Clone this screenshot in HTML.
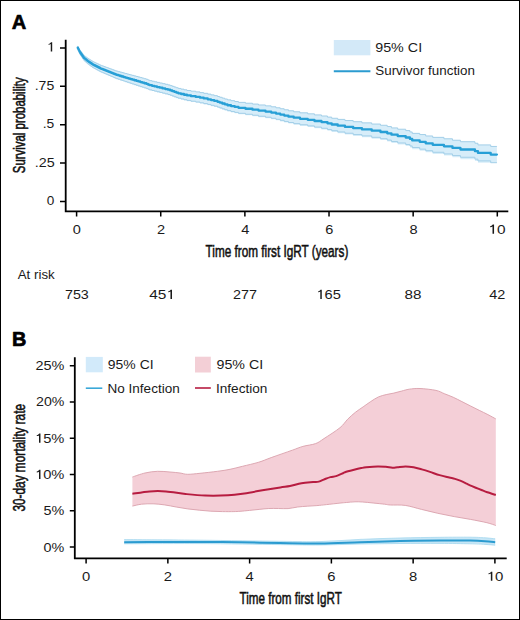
<!DOCTYPE html>
<html><head><meta charset="utf-8"><style>
html,body{margin:0;padding:0;background:#fff;}
body{width:520px;height:620px;overflow:hidden;}
svg{display:block;}
.t{font-family:"Liberation Sans", sans-serif;fill:#1a1a1a;}
.ti{font-family:"Liberation Sans", sans-serif;fill:#111;stroke:#111;stroke-width:0.55px;}
.lab{font-family:"Liberation Sans", sans-serif;fill:#000;stroke:#000;stroke-width:0.7px;stroke-linejoin:round;}
</style></head><body>
<svg width="520" height="620" viewBox="0 0 520 620">
<rect x="0" y="0" width="520" height="620" fill="#fff"/>
<path d="M77.70,46.20 H77.95 V46.84 H78.20 V47.31 H78.45 V47.77 H78.70 V48.24 H78.95 V48.71 H79.20 V49.17 H79.45 V49.64 H79.70 V50.10 H79.95 V50.57 H80.20 V50.92 H80.70 V51.56 H81.20 V52.21 H81.70 V52.85 H82.20 V53.49 H82.70 V54.13 H83.20 V54.78 H83.70 V55.42 H84.20 V55.82 H84.70 V56.15 H85.20 V56.51 H85.70 V56.88 H86.20 V57.25 H86.70 V57.63 H87.20 V58.00 H87.70 V58.37 H88.20 V58.75 H88.95 V59.25 H89.70 V59.71 H90.45 V60.17 H91.20 V60.63 H91.95 V61.09 H92.70 V61.55 H93.45 V61.96 H94.45 V62.44 H95.45 V62.91 H96.45 V63.39 H97.45 V63.87 H98.45 V64.34 H99.45 V64.82 H100.45 V65.30 H101.45 V65.70 H102.70 V66.14 H103.95 V66.59 H105.20 V67.04 H106.45 V67.49 H107.70 V67.94 H108.95 V68.40 H110.20 V68.86 H111.45 V69.33 H112.70 V69.79 H113.95 V70.26 H115.20 V70.72 H116.45 V71.16 H118.20 V71.64 H119.95 V72.12 H121.70 V72.59 H123.45 V73.07 H125.20 V73.54 H126.95 V74.01 H128.70 V74.48 H130.45 V74.95 H132.20 V75.42 H134.20 V75.95 H136.20 V76.49 H138.20 V77.03 H140.20 V77.57 H142.20 V78.15 H144.20 V78.73 H146.20 V79.31 H147.95 V79.97 H149.45 V80.63 H151.95 V81.23 H154.45 V81.81 H156.95 V82.39 H159.70 V83.02 H162.45 V83.66 H165.20 V84.30 H167.95 V84.93 H170.20 V85.62 H172.20 V86.33 H174.20 V87.03 H176.20 V87.74 H178.20 V88.44 H180.95 V89.11 H183.95 V89.81 H186.95 V90.50 H190.95 V91.19 H195.70 V91.89 H199.95 V92.61 H203.70 V93.32 H207.70 V94.10 H210.95 V94.88 H214.20 V95.67 H217.45 V96.51 H219.70 V97.29 H222.20 V98.15 H224.70 V99.02 H227.45 V99.86 H230.95 V100.66 H234.70 V101.53 H238.45 V102.39 H245.45 V103.22 H252.45 V104.07 H258.45 V104.97 H265.45 V105.87 H271.20 V106.81 H275.95 V107.77 H280.20 V108.74 H284.20 V109.76 H288.45 V110.78 H293.70 V111.79 H299.95 V112.82 H307.70 V113.84 H314.45 V114.92 H321.45 V115.99 H327.45 V117.12 H331.70 V118.27 H337.70 V119.40 H344.95 V120.54 H353.20 V121.71 H361.95 V122.86 H371.70 V124.06 H380.45 V125.28 H387.20 V126.56 H391.45 V127.91 H397.70 V129.23 H405.70 V130.55 H409.95 V131.94 H412.20 V133.36 H419.70 V134.56 H425.70 V135.98 H432.70 V137.37 H443.95 V138.77 H452.45 V140.24 H460.45 V141.71 H474.95 V143.26 H477.95 V144.92 H490.70 V146.44 H496.90 V146.38 V162.78 V162.78 H490.70 V162.69 H477.95 V160.88 H474.95 V159.15 H460.45 V157.26 H452.45 V155.59 H443.95 V153.93 H432.70 V152.27 H425.70 V150.71 H419.70 V149.14 H412.20 V147.49 H409.95 V145.94 H405.70 V144.47 H397.70 V142.98 H391.45 V141.54 H387.20 V140.11 H380.45 V138.69 H371.70 V137.30 H361.95 V135.90 H353.20 V134.57 H344.95 V133.24 H337.70 V131.96 H331.70 V130.70 H327.45 V129.48 H321.45 V128.25 H314.45 V127.08 H307.70 V125.89 H299.95 V124.74 H293.70 V123.61 H288.45 V122.52 H284.20 V121.43 H280.20 V120.34 H275.95 V119.30 H271.20 V118.27 H265.45 V117.24 H258.45 V116.23 H252.45 V115.23 H245.45 V114.27 H238.45 V113.32 H234.70 V112.40 H230.95 V111.48 H227.45 V110.61 H224.70 V109.71 H222.20 V108.80 H219.70 V107.88 H217.45 V107.06 H214.20 V106.15 H210.95 V105.30 H207.70 V104.45 H203.70 V103.59 H199.95 V102.81 H195.70 V102.00 H190.95 V101.21 H186.95 V100.44 H183.95 V99.68 H180.95 V98.93 H178.20 V98.20 H176.20 V97.46 H174.20 V96.72 H172.20 V95.97 H170.20 V95.23 H167.95 V94.49 H165.20 V93.80 H162.45 V93.11 H159.70 V92.42 H156.95 V91.73 H154.45 V91.10 H151.95 V90.47 H149.45 V89.81 H147.95 V89.13 H146.20 V88.43 H144.20 V87.81 H142.20 V87.19 H140.20 V86.57 H138.20 V85.91 H136.20 V85.25 H134.20 V84.58 H132.20 V83.92 H130.45 V83.34 H128.70 V82.76 H126.95 V82.18 H125.20 V81.59 H123.45 V81.01 H121.70 V80.42 H119.95 V79.84 H118.20 V79.25 H116.45 V78.66 H115.20 V78.14 H113.95 V77.59 H112.70 V77.05 H111.45 V76.50 H110.20 V75.96 H108.95 V75.41 H107.70 V74.88 H106.45 V74.35 H105.20 V73.82 H103.95 V73.29 H102.70 V72.76 H101.45 V72.23 H100.45 V71.77 H99.45 V71.23 H98.45 V70.69 H97.45 V70.15 H96.45 V69.61 H95.45 V69.07 H94.45 V68.53 H93.45 V67.99 H92.70 V67.51 H91.95 V66.96 H91.20 V66.40 H90.45 V65.85 H89.70 V65.30 H88.95 V64.74 H88.20 V64.15 H87.70 V63.71 H87.20 V63.28 H86.70 V62.84 H86.20 V62.40 H85.70 V61.97 H85.20 V61.53 H84.70 V61.07 H84.20 V60.60 H83.70 V60.06 H83.20 V59.28 H82.70 V58.50 H82.20 V57.72 H81.70 V56.94 H81.20 V56.17 H80.70 V55.39 H80.20 V54.61 H79.95 V54.19 H79.70 V53.65 H79.45 V53.12 H79.20 V52.58 H78.95 V52.05 H78.70 V51.51 H78.45 V50.98 H78.20 V50.44 H77.95 V49.91 H77.70 V49.20 Z" fill="#d7edf9" stroke="none"/>
<path d="M77.70,46.20 H77.95 V46.84 H78.20 V47.31 H78.45 V47.77 H78.70 V48.24 H78.95 V48.71 H79.20 V49.17 H79.45 V49.64 H79.70 V50.10 H79.95 V50.57 H80.20 V50.92 H80.70 V51.56 H81.20 V52.21 H81.70 V52.85 H82.20 V53.49 H82.70 V54.13 H83.20 V54.78 H83.70 V55.42 H84.20 V55.82 H84.70 V56.15 H85.20 V56.51 H85.70 V56.88 H86.20 V57.25 H86.70 V57.63 H87.20 V58.00 H87.70 V58.37 H88.20 V58.75 H88.95 V59.25 H89.70 V59.71 H90.45 V60.17 H91.20 V60.63 H91.95 V61.09 H92.70 V61.55 H93.45 V61.96 H94.45 V62.44 H95.45 V62.91 H96.45 V63.39 H97.45 V63.87 H98.45 V64.34 H99.45 V64.82 H100.45 V65.30 H101.45 V65.70 H102.70 V66.14 H103.95 V66.59 H105.20 V67.04 H106.45 V67.49 H107.70 V67.94 H108.95 V68.40 H110.20 V68.86 H111.45 V69.33 H112.70 V69.79 H113.95 V70.26 H115.20 V70.72 H116.45 V71.16 H118.20 V71.64 H119.95 V72.12 H121.70 V72.59 H123.45 V73.07 H125.20 V73.54 H126.95 V74.01 H128.70 V74.48 H130.45 V74.95 H132.20 V75.42 H134.20 V75.95 H136.20 V76.49 H138.20 V77.03 H140.20 V77.57 H142.20 V78.15 H144.20 V78.73 H146.20 V79.31 H147.95 V79.97 H149.45 V80.63 H151.95 V81.23 H154.45 V81.81 H156.95 V82.39 H159.70 V83.02 H162.45 V83.66 H165.20 V84.30 H167.95 V84.93 H170.20 V85.62 H172.20 V86.33 H174.20 V87.03 H176.20 V87.74 H178.20 V88.44 H180.95 V89.11 H183.95 V89.81 H186.95 V90.50 H190.95 V91.19 H195.70 V91.89 H199.95 V92.61 H203.70 V93.32 H207.70 V94.10 H210.95 V94.88 H214.20 V95.67 H217.45 V96.51 H219.70 V97.29 H222.20 V98.15 H224.70 V99.02 H227.45 V99.86 H230.95 V100.66 H234.70 V101.53 H238.45 V102.39 H245.45 V103.22 H252.45 V104.07 H258.45 V104.97 H265.45 V105.87 H271.20 V106.81 H275.95 V107.77 H280.20 V108.74 H284.20 V109.76 H288.45 V110.78 H293.70 V111.79 H299.95 V112.82 H307.70 V113.84 H314.45 V114.92 H321.45 V115.99 H327.45 V117.12 H331.70 V118.27 H337.70 V119.40 H344.95 V120.54 H353.20 V121.71 H361.95 V122.86 H371.70 V124.06 H380.45 V125.28 H387.20 V126.56 H391.45 V127.91 H397.70 V129.23 H405.70 V130.55 H409.95 V131.94 H412.20 V133.36 H419.70 V134.56 H425.70 V135.98 H432.70 V137.37 H443.95 V138.77 H452.45 V140.24 H460.45 V141.71 H474.95 V143.26 H477.95 V144.92 H490.70 V146.44 H496.90 V146.38" fill="none" stroke="#a3cfe8" stroke-width="1"/>
<path d="M77.70,49.20 H77.95 V49.91 H78.20 V50.44 H78.45 V50.98 H78.70 V51.51 H78.95 V52.05 H79.20 V52.58 H79.45 V53.12 H79.70 V53.65 H79.95 V54.19 H80.20 V54.61 H80.70 V55.39 H81.20 V56.17 H81.70 V56.94 H82.20 V57.72 H82.70 V58.50 H83.20 V59.28 H83.70 V60.06 H84.20 V60.60 H84.70 V61.07 H85.20 V61.53 H85.70 V61.97 H86.20 V62.40 H86.70 V62.84 H87.20 V63.28 H87.70 V63.71 H88.20 V64.15 H88.95 V64.74 H89.70 V65.30 H90.45 V65.85 H91.20 V66.40 H91.95 V66.96 H92.70 V67.51 H93.45 V67.99 H94.45 V68.53 H95.45 V69.07 H96.45 V69.61 H97.45 V70.15 H98.45 V70.69 H99.45 V71.23 H100.45 V71.77 H101.45 V72.23 H102.70 V72.76 H103.95 V73.29 H105.20 V73.82 H106.45 V74.35 H107.70 V74.88 H108.95 V75.41 H110.20 V75.96 H111.45 V76.50 H112.70 V77.05 H113.95 V77.59 H115.20 V78.14 H116.45 V78.66 H118.20 V79.25 H119.95 V79.84 H121.70 V80.42 H123.45 V81.01 H125.20 V81.59 H126.95 V82.18 H128.70 V82.76 H130.45 V83.34 H132.20 V83.92 H134.20 V84.58 H136.20 V85.25 H138.20 V85.91 H140.20 V86.57 H142.20 V87.19 H144.20 V87.81 H146.20 V88.43 H147.95 V89.13 H149.45 V89.81 H151.95 V90.47 H154.45 V91.10 H156.95 V91.73 H159.70 V92.42 H162.45 V93.11 H165.20 V93.80 H167.95 V94.49 H170.20 V95.23 H172.20 V95.97 H174.20 V96.72 H176.20 V97.46 H178.20 V98.20 H180.95 V98.93 H183.95 V99.68 H186.95 V100.44 H190.95 V101.21 H195.70 V102.00 H199.95 V102.81 H203.70 V103.59 H207.70 V104.45 H210.95 V105.30 H214.20 V106.15 H217.45 V107.06 H219.70 V107.88 H222.20 V108.80 H224.70 V109.71 H227.45 V110.61 H230.95 V111.48 H234.70 V112.40 H238.45 V113.32 H245.45 V114.27 H252.45 V115.23 H258.45 V116.23 H265.45 V117.24 H271.20 V118.27 H275.95 V119.30 H280.20 V120.34 H284.20 V121.43 H288.45 V122.52 H293.70 V123.61 H299.95 V124.74 H307.70 V125.89 H314.45 V127.08 H321.45 V128.25 H327.45 V129.48 H331.70 V130.70 H337.70 V131.96 H344.95 V133.24 H353.20 V134.57 H361.95 V135.90 H371.70 V137.30 H380.45 V138.69 H387.20 V140.11 H391.45 V141.54 H397.70 V142.98 H405.70 V144.47 H409.95 V145.94 H412.20 V147.49 H419.70 V149.14 H425.70 V150.71 H432.70 V152.27 H443.95 V153.93 H452.45 V155.59 H460.45 V157.26 H474.95 V159.15 H477.95 V160.88 H490.70 V162.69 H496.90 V162.78" fill="none" stroke="#a3cfe8" stroke-width="1"/>
<path d="M77.70,47.70 H77.95 V48.38 H78.20 V48.88 H78.45 V49.38 H78.70 V49.88 H78.95 V50.38 H79.20 V50.88 H79.45 V51.38 H79.70 V51.88 H79.95 V52.38 H80.20 V52.76 H80.70 V53.47 H81.20 V54.19 H81.70 V54.90 H82.20 V55.61 H82.70 V56.32 H83.20 V57.03 H83.70 V57.74 H84.20 V58.21 H84.70 V58.61 H85.20 V59.02 H85.70 V59.42 H86.20 V59.83 H86.70 V60.23 H87.20 V60.64 H87.70 V61.04 H88.20 V61.45 H88.95 V62.00 H89.70 V62.50 H90.45 V63.01 H91.20 V63.52 H91.95 V64.02 H92.70 V64.53 H93.45 V64.98 H94.45 V65.48 H95.45 V65.99 H96.45 V66.50 H97.45 V67.01 H98.45 V67.52 H99.45 V68.02 H100.45 V68.53 H101.45 V68.97 H102.70 V69.45 H103.95 V69.94 H105.20 V70.43 H106.45 V70.92 H107.70 V71.41 H108.95 V71.90 H110.20 V72.41 H111.45 V72.91 H112.70 V73.42 H113.95 V73.93 H115.20 V74.43 H116.45 V74.91 H118.20 V75.44 H119.95 V75.98 H121.70 V76.51 H123.45 V77.04 H125.20 V77.57 H126.95 V78.09 H128.70 V78.62 H130.45 V79.14 H132.20 V79.67 H134.20 V80.27 H136.20 V80.87 H138.20 V81.47 H140.20 V82.07 H142.20 V82.67 H144.20 V83.27 H146.20 V83.87 H147.95 V84.55 H149.45 V85.22 H151.95 V85.85 H154.45 V86.46 H156.95 V87.06 H159.70 V87.72 H162.45 V88.39 H165.20 V89.05 H167.95 V89.71 H170.20 V90.42 H172.20 V91.15 H174.20 V91.87 H176.20 V92.60 H178.20 V93.32 H180.95 V94.02 H183.95 V94.75 H186.95 V95.47 H190.95 V96.20 H195.70 V96.95 H199.95 V97.71 H203.70 V98.46 H207.70 V99.28 H210.95 V100.09 H214.20 V100.91 H217.45 V101.79 H219.70 V102.59 H222.20 V103.48 H224.70 V104.37 H227.45 V105.23 H230.95 V106.07 H234.70 V106.96 H238.45 V107.85 H245.45 V108.74 H252.45 V109.65 H258.45 V110.60 H265.45 V111.56 H271.20 V112.54 H275.95 V113.53 H280.20 V114.54 H284.20 V115.60 H288.45 V116.65 H293.70 V117.70 H299.95 V118.78 H307.70 V119.86 H314.45 V121.00 H321.45 V122.12 H327.45 V123.30 H331.70 V124.48 H337.70 V125.68 H344.95 V126.89 H353.20 V128.14 H361.95 V129.38 H371.70 V130.68 H380.45 V131.99 H387.20 V133.34 H391.45 V134.72 H397.70 V136.11 H405.70 V137.51 H409.95 V138.94 H412.20 V140.43 H419.70 V141.85 H425.70 V143.35 H432.70 V144.82 H443.95 V146.35 H452.45 V147.91 H460.45 V149.49 H474.95 V151.21 H477.95 V152.90 H490.70 V154.57 H496.90 V154.58" fill="none" stroke="#279fd6" stroke-width="2.3" stroke-linejoin="round" stroke-linecap="round"/>
<path d="M65.7,39.8 V212.2 M64.8,211.3 H508.3" stroke="#000" stroke-width="1.8" fill="none"/>
<path d="M60,201.50 H65.7 M60,163.10 H65.7 M60,124.70 H65.7 M60,86.30 H65.7 M60,47.90 H65.7 M76.60,211.3 V216.5 M160.74,211.3 V216.5 M244.88,211.3 V216.5 M329.02,211.3 V216.5 M413.16,211.3 V216.5 M497.30,211.3 V216.5 " stroke="#000" stroke-width="1.5" fill="none"/>
<text x="46.67" y="205.00" class="t" style="font-size:13.00px;" textLength="7.56" lengthAdjust="spacingAndGlyphs">0</text>
<text x="34.69" y="166.60" class="t" style="font-size:13.00px;" textLength="19.91" lengthAdjust="spacingAndGlyphs">.25</text>
<text x="42.74" y="128.20" class="t" style="font-size:13.00px;" textLength="11.55" lengthAdjust="spacingAndGlyphs">.5</text>
<text x="34.71" y="89.80" class="t" style="font-size:13.00px;" textLength="19.58" lengthAdjust="spacingAndGlyphs">.75</text>
<path d="M0.37,0 V-0.70 H0.285 C0.26,-0.635 0.2,-0.585 0.115,-0.575 V-0.505 C0.18,-0.51 0.24,-0.535 0.27,-0.56 V0 Z" transform="translate(46.87,51.40) scale(14.400,13.000)" fill="#1a1a1a"/>
<text x="72.85" y="233.70" class="t" style="font-size:13.00px;" textLength="8.10" lengthAdjust="spacingAndGlyphs">0</text>
<text x="156.99" y="233.70" class="t" style="font-size:13.00px;" textLength="8.10" lengthAdjust="spacingAndGlyphs">2</text>
<text x="241.18" y="233.70" class="t" style="font-size:13.00px;" textLength="8.10" lengthAdjust="spacingAndGlyphs">4</text>
<text x="325.22" y="233.70" class="t" style="font-size:13.00px;" textLength="8.10" lengthAdjust="spacingAndGlyphs">6</text>
<text x="409.41" y="233.70" class="t" style="font-size:13.00px;" textLength="8.10" lengthAdjust="spacingAndGlyphs">8</text>
<path d="M0.37,0 V-0.70 H0.285 C0.26,-0.635 0.2,-0.585 0.115,-0.575 V-0.505 C0.18,-0.51 0.24,-0.535 0.27,-0.56 V0 Z" transform="translate(488.35,233.70) scale(15.421,13.000)" fill="#1a1a1a"/><text x="496.93" y="233.70" class="t" style="font-size:13.00px;" textLength="8.58" lengthAdjust="spacingAndGlyphs">0</text>
<text x="205.54" y="256.60" class="ti" style="font-size:16.10px;" textLength="142.79" lengthAdjust="spacingAndGlyphs">Time from first IgRT (years)</text>
<text transform="translate(25.10,173.22) rotate(-90)" x="0" y="0" class="ti" style="font-size:16.10px;" textLength="95.84" lengthAdjust="spacingAndGlyphs">Survival probability</text>
<text x="17.77" y="278.50" class="t" style="font-size:13.00px;" textLength="36.91" lengthAdjust="spacingAndGlyphs">At risk</text>
<text x="64.97" y="298.90" class="t" style="font-size:13.00px;" textLength="23.86" lengthAdjust="spacingAndGlyphs">753</text>
<text x="149.15" y="298.90" class="t" style="font-size:13.00px;" textLength="17.15" lengthAdjust="spacingAndGlyphs">45</text><path d="M0.37,0 V-0.70 H0.285 C0.26,-0.635 0.2,-0.585 0.115,-0.575 V-0.505 C0.18,-0.51 0.24,-0.535 0.27,-0.56 V0 Z" transform="translate(166.30,298.90) scale(15.418,13.000)" fill="#1a1a1a"/>
<text x="233.03" y="298.90" class="t" style="font-size:13.00px;" textLength="23.94" lengthAdjust="spacingAndGlyphs">277</text>
<path d="M0.37,0 V-0.70 H0.285 C0.26,-0.635 0.2,-0.585 0.115,-0.575 V-0.505 C0.18,-0.51 0.24,-0.535 0.27,-0.56 V0 Z" transform="translate(316.34,298.90) scale(14.670,13.000)" fill="#1a1a1a"/><text x="324.50" y="298.90" class="t" style="font-size:13.00px;" textLength="16.32" lengthAdjust="spacingAndGlyphs">65</text>
<text x="404.64" y="298.90" class="t" style="font-size:13.00px;" textLength="16.92" lengthAdjust="spacingAndGlyphs">88</text>
<text x="489.17" y="298.90" class="t" style="font-size:13.00px;" textLength="16.06" lengthAdjust="spacingAndGlyphs">42</text>
<rect x="333.8" y="40" width="36.6" height="15.3" fill="#d3e9f8"/>
<path d="M333.8,71.2 H370.4" stroke="#2b9bd0" stroke-width="2"/>
<text x="375.23" y="51.70" class="t" style="font-size:13.00px;" textLength="46.89" lengthAdjust="spacingAndGlyphs">95% CI</text>
<text x="375.29" y="74.80" class="t" style="font-size:13.00px;" textLength="99.68" lengthAdjust="spacingAndGlyphs">Survivor function</text>
<text x="11.80" y="28.70" class="lab" style="font-size:20.50px;font-weight:bold;" textLength="14.53" lengthAdjust="spacingAndGlyphs">A</text>
<path d="M132.40,477.00 C134.50,476.33 140.82,473.95 145.00,473.00 C149.18,472.05 153.33,471.47 157.50,471.30 C161.67,471.13 166.25,471.72 170.00,472.00 C173.75,472.28 177.08,472.62 180.00,473.00 C182.92,473.38 184.17,474.25 187.50,474.30 C190.83,474.35 195.00,473.80 200.00,473.30 C205.00,472.80 212.50,471.97 217.50,471.30 C222.50,470.63 225.83,470.13 230.00,469.30 C234.17,468.47 237.70,467.48 242.50,466.30 C247.30,465.12 254.02,463.65 258.80,462.20 C263.58,460.75 265.62,459.60 271.20,457.60 C276.78,455.60 287.02,452.07 292.30,450.20 C297.58,448.33 299.02,447.50 302.90,446.40 C306.78,445.30 312.08,444.90 315.60,443.60 C319.12,442.30 319.93,441.25 324.00,438.60 C328.07,435.95 336.05,430.93 340.00,427.70 C343.95,424.47 345.13,421.77 347.70,419.20 C350.27,416.63 352.83,414.35 355.40,412.30 C357.97,410.25 360.53,408.70 363.10,406.90 C365.67,405.10 368.23,403.17 370.80,401.50 C373.37,399.83 375.93,398.05 378.50,396.90 C381.07,395.75 383.65,395.23 386.20,394.60 C388.75,393.97 391.25,393.68 393.80,393.10 C396.35,392.52 398.93,391.75 401.50,391.10 C404.07,390.45 406.12,389.63 409.20,389.20 C412.28,388.77 415.53,388.30 420.00,388.50 C424.47,388.70 431.90,389.52 436.00,390.40 C440.10,391.28 441.72,392.65 444.60,393.80 C447.48,394.95 450.42,396.00 453.30,397.30 C456.18,398.60 459.02,400.15 461.90,401.60 C464.78,403.05 467.72,404.55 470.60,406.00 C473.48,407.45 476.32,408.87 479.20,410.30 C482.08,411.73 485.13,413.17 487.90,414.60 C490.67,416.03 494.48,418.18 495.80,418.90 L495.80,525.50 C494.32,525.03 491.12,523.72 486.90,522.70 C482.68,521.68 475.95,520.42 470.50,519.40 C465.05,518.38 459.65,517.62 454.20,516.60 C448.75,515.58 443.25,514.50 437.80,513.30 C432.35,512.10 426.93,510.72 421.50,509.40 C416.07,508.08 410.38,506.13 405.20,505.40 C400.02,504.67 393.83,505.20 390.40,505.00 C386.97,504.80 387.48,504.53 384.60,504.20 C381.72,503.87 376.75,503.37 373.10,503.00 C369.45,502.63 365.72,502.20 362.70,502.00 C359.68,501.80 357.73,501.72 355.00,501.80 C352.27,501.88 348.80,502.28 346.30,502.50 C343.80,502.72 343.30,502.75 340.00,503.10 C336.70,503.45 330.35,504.18 326.50,504.60 C322.65,505.02 320.10,505.33 316.90,505.60 C313.70,505.87 310.50,505.97 307.30,506.20 C304.10,506.43 300.90,506.60 297.70,507.00 C294.50,507.40 291.30,508.35 288.10,508.60 C284.90,508.85 281.72,508.52 278.50,508.50 C275.28,508.48 272.02,508.35 268.80,508.50 C265.58,508.65 262.40,509.08 259.20,509.40 C256.00,509.72 252.80,510.08 249.60,510.40 C246.40,510.72 242.62,511.10 240.00,511.30 C237.38,511.50 236.83,511.55 233.90,511.60 C230.97,511.65 226.25,511.67 222.40,511.60 C218.55,511.53 214.65,511.43 210.80,511.20 C206.95,510.97 203.15,510.58 199.30,510.20 C195.45,509.82 191.55,509.43 187.70,508.90 C183.85,508.37 180.05,507.67 176.20,507.00 C172.35,506.33 168.45,505.43 164.60,504.90 C160.75,504.37 156.95,503.92 153.10,503.80 C149.25,503.68 144.95,503.82 141.50,504.20 C138.05,504.58 133.92,505.78 132.40,506.10 Z" fill="#f4cfd7" stroke="none"/>
<path d="M132.40,477.00 C134.50,476.33 140.82,473.95 145.00,473.00 C149.18,472.05 153.33,471.47 157.50,471.30 C161.67,471.13 166.25,471.72 170.00,472.00 C173.75,472.28 177.08,472.62 180.00,473.00 C182.92,473.38 184.17,474.25 187.50,474.30 C190.83,474.35 195.00,473.80 200.00,473.30 C205.00,472.80 212.50,471.97 217.50,471.30 C222.50,470.63 225.83,470.13 230.00,469.30 C234.17,468.47 237.70,467.48 242.50,466.30 C247.30,465.12 254.02,463.65 258.80,462.20 C263.58,460.75 265.62,459.60 271.20,457.60 C276.78,455.60 287.02,452.07 292.30,450.20 C297.58,448.33 299.02,447.50 302.90,446.40 C306.78,445.30 312.08,444.90 315.60,443.60 C319.12,442.30 319.93,441.25 324.00,438.60 C328.07,435.95 336.05,430.93 340.00,427.70 C343.95,424.47 345.13,421.77 347.70,419.20 C350.27,416.63 352.83,414.35 355.40,412.30 C357.97,410.25 360.53,408.70 363.10,406.90 C365.67,405.10 368.23,403.17 370.80,401.50 C373.37,399.83 375.93,398.05 378.50,396.90 C381.07,395.75 383.65,395.23 386.20,394.60 C388.75,393.97 391.25,393.68 393.80,393.10 C396.35,392.52 398.93,391.75 401.50,391.10 C404.07,390.45 406.12,389.63 409.20,389.20 C412.28,388.77 415.53,388.30 420.00,388.50 C424.47,388.70 431.90,389.52 436.00,390.40 C440.10,391.28 441.72,392.65 444.60,393.80 C447.48,394.95 450.42,396.00 453.30,397.30 C456.18,398.60 459.02,400.15 461.90,401.60 C464.78,403.05 467.72,404.55 470.60,406.00 C473.48,407.45 476.32,408.87 479.20,410.30 C482.08,411.73 485.13,413.17 487.90,414.60 C490.67,416.03 494.48,418.18 495.80,418.90" fill="none" stroke="#d9a0ab" stroke-width="0.9"/>
<path d="M132.40,506.10 C133.92,505.78 138.05,504.58 141.50,504.20 C144.95,503.82 149.25,503.68 153.10,503.80 C156.95,503.92 160.75,504.37 164.60,504.90 C168.45,505.43 172.35,506.33 176.20,507.00 C180.05,507.67 183.85,508.37 187.70,508.90 C191.55,509.43 195.45,509.82 199.30,510.20 C203.15,510.58 206.95,510.97 210.80,511.20 C214.65,511.43 218.55,511.53 222.40,511.60 C226.25,511.67 230.97,511.65 233.90,511.60 C236.83,511.55 237.38,511.50 240.00,511.30 C242.62,511.10 246.40,510.72 249.60,510.40 C252.80,510.08 256.00,509.72 259.20,509.40 C262.40,509.08 265.58,508.65 268.80,508.50 C272.02,508.35 275.28,508.48 278.50,508.50 C281.72,508.52 284.90,508.85 288.10,508.60 C291.30,508.35 294.50,507.40 297.70,507.00 C300.90,506.60 304.10,506.43 307.30,506.20 C310.50,505.97 313.70,505.87 316.90,505.60 C320.10,505.33 322.65,505.02 326.50,504.60 C330.35,504.18 336.70,503.45 340.00,503.10 C343.30,502.75 343.80,502.72 346.30,502.50 C348.80,502.28 352.27,501.88 355.00,501.80 C357.73,501.72 359.68,501.80 362.70,502.00 C365.72,502.20 369.45,502.63 373.10,503.00 C376.75,503.37 381.72,503.87 384.60,504.20 C387.48,504.53 386.97,504.80 390.40,505.00 C393.83,505.20 400.02,504.67 405.20,505.40 C410.38,506.13 416.07,508.08 421.50,509.40 C426.93,510.72 432.35,512.10 437.80,513.30 C443.25,514.50 448.75,515.58 454.20,516.60 C459.65,517.62 465.05,518.38 470.50,519.40 C475.95,520.42 482.68,521.68 486.90,522.70 C491.12,523.72 494.32,525.03 495.80,525.50" fill="none" stroke="#d9a0ab" stroke-width="0.9"/>
<path d="M124.20,539.60 C136.83,539.70 174.03,539.92 200.00,540.20 C225.97,540.48 260.00,541.07 280.00,541.30 C300.00,541.53 306.67,541.92 320.00,541.60 C333.33,541.28 346.67,540.00 360.00,539.40 C373.33,538.80 386.67,538.35 400.00,538.00 C413.33,537.65 428.33,537.43 440.00,537.30 C451.67,537.17 462.50,537.12 470.00,537.20 C477.50,537.28 480.80,537.53 485.00,537.80 C489.20,538.07 493.50,538.63 495.20,538.80 L495.20,545.20 C493.50,545.07 489.20,544.63 485.00,544.40 C480.80,544.17 477.50,543.97 470.00,543.80 C462.50,543.63 451.67,543.45 440.00,543.40 C428.33,543.35 413.33,543.40 400.00,543.50 C386.67,543.60 373.33,543.75 360.00,544.00 C346.67,544.25 333.33,544.90 320.00,545.00 C306.67,545.10 300.00,544.83 280.00,544.60 C260.00,544.37 225.97,543.73 200.00,543.60 C174.03,543.47 136.83,543.77 124.20,543.80 Z" fill="#c6e6f6" stroke="none"/>
<path d="M124.20,539.60 C136.83,539.70 174.03,539.92 200.00,540.20 C225.97,540.48 260.00,541.07 280.00,541.30 C300.00,541.53 306.67,541.92 320.00,541.60 C333.33,541.28 346.67,540.00 360.00,539.40 C373.33,538.80 386.67,538.35 400.00,538.00 C413.33,537.65 428.33,537.43 440.00,537.30 C451.67,537.17 462.50,537.12 470.00,537.20 C477.50,537.28 480.80,537.53 485.00,537.80 C489.20,538.07 493.50,538.63 495.20,538.80" fill="none" stroke="#a6d8ef" stroke-width="0.8"/>
<path d="M124.20,543.80 C136.83,543.77 174.03,543.47 200.00,543.60 C225.97,543.73 260.00,544.37 280.00,544.60 C300.00,544.83 306.67,545.10 320.00,545.00 C333.33,544.90 346.67,544.25 360.00,544.00 C373.33,543.75 386.67,543.60 400.00,543.50 C413.33,543.40 428.33,543.35 440.00,543.40 C451.67,543.45 462.50,543.63 470.00,543.80 C477.50,543.97 480.80,544.17 485.00,544.40 C489.20,544.63 493.50,545.07 495.20,545.20" fill="none" stroke="#a6d8ef" stroke-width="0.8"/>
<path d="M124.20,542.20 C130.17,542.17 147.37,542.05 160.00,542.00 C172.63,541.95 186.67,541.85 200.00,541.90 C213.33,541.95 226.67,542.10 240.00,542.30 C253.33,542.50 266.67,542.90 280.00,543.10 C293.33,543.30 306.67,543.65 320.00,543.50 C333.33,543.35 346.67,542.62 360.00,542.20 C373.33,541.78 386.67,541.30 400.00,541.00 C413.33,540.70 428.33,540.47 440.00,540.40 C451.67,540.33 462.50,540.47 470.00,540.60 C477.50,540.73 480.80,540.93 485.00,541.20 C489.20,541.47 493.50,542.03 495.20,542.20" fill="none" stroke="#2b9bd0" stroke-width="2"/>
<path d="M132.40,493.80 C135.27,493.40 144.00,491.80 149.60,491.40 C155.20,491.00 160.00,490.97 166.00,491.40 C172.00,491.83 179.07,493.30 185.60,494.00 C192.13,494.70 198.13,495.38 205.20,495.60 C212.27,495.82 221.47,495.67 228.00,495.30 C234.53,494.93 238.40,494.28 244.40,493.40 C250.40,492.52 258.02,491.00 264.00,490.00 C269.98,489.00 275.97,488.05 280.30,487.40 C284.63,486.75 286.47,486.78 290.00,486.10 C293.53,485.42 297.65,483.97 301.50,483.30 C305.35,482.63 310.22,482.38 313.10,482.10 C315.98,481.82 316.88,482.08 318.80,481.60 C320.72,481.12 322.67,479.95 324.60,479.20 C326.53,478.45 328.48,477.62 330.40,477.10 C332.32,476.58 334.18,476.67 336.10,476.10 C338.02,475.53 340.42,474.35 341.90,473.70 C343.38,473.05 343.12,472.82 345.00,472.20 C346.88,471.58 350.48,470.68 353.20,470.00 C355.92,469.32 359.13,468.55 361.30,468.10 C363.47,467.65 363.47,467.58 366.20,467.30 C368.93,467.02 374.43,466.48 377.70,466.40 C380.97,466.32 383.35,466.58 385.80,466.80 C388.25,467.02 390.48,467.62 392.40,467.70 C394.32,467.78 395.12,467.52 397.30,467.30 C399.48,467.08 402.78,466.40 405.50,466.40 C408.22,466.40 410.88,466.80 413.60,467.30 C416.32,467.80 419.07,468.63 421.80,469.40 C424.53,470.17 427.03,470.95 430.00,471.90 C432.97,472.85 436.40,474.17 439.60,475.10 C442.80,476.03 446.63,476.87 449.20,477.50 C451.77,478.13 453.07,478.33 455.00,478.90 C456.93,479.47 458.88,480.12 460.80,480.90 C462.72,481.68 464.97,482.87 466.50,483.60 C468.03,484.33 468.45,484.62 470.00,485.30 C471.55,485.98 473.88,486.92 475.80,487.70 C477.72,488.48 479.58,489.23 481.50,490.00 C483.42,490.77 484.92,491.47 487.30,492.30 C489.68,493.13 494.38,494.55 495.80,495.00" fill="none" stroke="#b71c40" stroke-width="2"/>
<path d="M74.8,357.3 V559.2 M73.9,558.3 H506.7" stroke="#000" stroke-width="1.8" fill="none"/>
<path d="M69.8,547.10 H74.8 M69.8,510.83 H74.8 M69.8,474.55 H74.8 M69.8,438.28 H74.8 M69.8,402.00 H74.8 M69.8,365.73 H74.8 M86.10,558.3 V563.6 M167.86,558.3 V563.6 M249.62,558.3 V563.6 M331.38,558.3 V563.6 M413.14,558.3 V563.6 M494.90,558.3 V563.6 " stroke="#000" stroke-width="1.5" fill="none"/>
<text x="43.64" y="551.50" class="t" style="font-size:13.00px;" textLength="20.77" lengthAdjust="spacingAndGlyphs">0%</text>
<text x="43.62" y="515.23" class="t" style="font-size:13.00px;" textLength="20.79" lengthAdjust="spacingAndGlyphs">5%</text>
<path d="M0.37,0 V-0.70 H0.285 C0.26,-0.635 0.2,-0.585 0.115,-0.575 V-0.505 C0.18,-0.51 0.24,-0.535 0.27,-0.56 V0 Z" transform="translate(35.04,478.95) scale(14.682,13.000)" fill="#1a1a1a"/><text x="43.20" y="478.95" class="t" style="font-size:13.00px;" textLength="21.22" lengthAdjust="spacingAndGlyphs">0%</text>
<path d="M0.37,0 V-0.70 H0.285 C0.26,-0.635 0.2,-0.585 0.115,-0.575 V-0.505 C0.18,-0.51 0.24,-0.535 0.27,-0.56 V0 Z" transform="translate(35.04,442.68) scale(14.682,13.000)" fill="#1a1a1a"/><text x="43.20" y="442.68" class="t" style="font-size:13.00px;" textLength="21.22" lengthAdjust="spacingAndGlyphs">5%</text>
<text x="36.09" y="406.40" class="t" style="font-size:13.00px;" textLength="28.32" lengthAdjust="spacingAndGlyphs">20%</text>
<text x="35.47" y="370.12" class="t" style="font-size:13.00px;" textLength="28.94" lengthAdjust="spacingAndGlyphs">25%</text>
<text x="81.98" y="580.80" class="t" style="font-size:13.00px;" textLength="8.24" lengthAdjust="spacingAndGlyphs">0</text>
<text x="163.74" y="580.80" class="t" style="font-size:13.00px;" textLength="8.24" lengthAdjust="spacingAndGlyphs">2</text>
<text x="245.55" y="580.80" class="t" style="font-size:13.00px;" textLength="8.24" lengthAdjust="spacingAndGlyphs">4</text>
<text x="327.21" y="580.80" class="t" style="font-size:13.00px;" textLength="8.24" lengthAdjust="spacingAndGlyphs">6</text>
<text x="409.02" y="580.80" class="t" style="font-size:13.00px;" textLength="8.24" lengthAdjust="spacingAndGlyphs">8</text>
<path d="M0.37,0 V-0.70 H0.285 C0.26,-0.635 0.2,-0.585 0.115,-0.575 V-0.505 C0.18,-0.51 0.24,-0.535 0.27,-0.56 V0 Z" transform="translate(486.80,580.80) scale(15.001,13.000)" fill="#1a1a1a"/><text x="495.14" y="580.80" class="t" style="font-size:13.00px;" textLength="8.34" lengthAdjust="spacingAndGlyphs">0</text>
<text x="239.54" y="603.80" class="ti" style="font-size:16.10px;" textLength="102.23" lengthAdjust="spacingAndGlyphs">Time from first IgRT</text>
<text transform="translate(24.70,511.55) rotate(-90)" x="0" y="0" class="ti" style="font-size:16.10px;" textLength="107.57" lengthAdjust="spacingAndGlyphs">30-day mortality rate</text>
<rect x="85.8" y="356.9" width="17" height="15.4" fill="#d2eafa"/>
<rect x="195" y="356.7" width="15.8" height="15.8" fill="#f3cfd6"/>
<path d="M85.8,388.2 H102.3" stroke="#3aa8d8" stroke-width="1.6"/>
<path d="M195,388 H210.8" stroke="#b71c40" stroke-width="1.6"/>
<text x="107.85" y="368.80" class="t" style="font-size:13.00px;" textLength="45.74" lengthAdjust="spacingAndGlyphs">95% CI</text>
<text x="216.53" y="368.80" class="t" style="font-size:13.00px;" textLength="46.68" lengthAdjust="spacingAndGlyphs">95% CI</text>
<text x="107.59" y="392.50" class="t" style="font-size:13.00px;" textLength="72.09" lengthAdjust="spacingAndGlyphs">No Infection</text>
<text x="215.94" y="392.50" class="t" style="font-size:13.00px;" textLength="51.44" lengthAdjust="spacingAndGlyphs">Infection</text>
<text x="11.97" y="345.80" class="lab" style="font-size:20.50px;font-weight:bold;" textLength="14.33" lengthAdjust="spacingAndGlyphs">B</text>
<rect x="0.5" y="0.5" width="519" height="619" fill="none" stroke="#000" stroke-width="1"/>
</svg>
</body></html>
